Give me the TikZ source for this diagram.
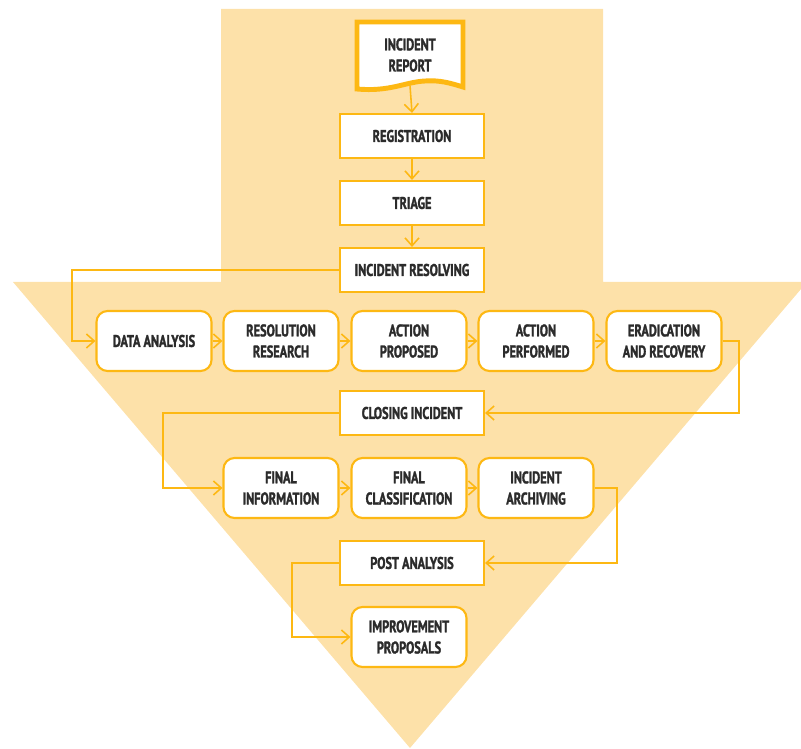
\documentclass[tikz,border=0pt]{standalone}
\usepackage{fontspec}
\setmainfont{PT Sans}[FakeStretch=0.73,BoldFont={PT Sans Bold},BoldFeatures={FakeBold=1.6}]
\usepackage{tikz}
\usetikzlibrary{positioning}
\usetikzlibrary{arrows.meta}
\definecolor{arrowfill}{HTML}{FDE1A9}
\definecolor{edge}{HTML}{FDB813}
\definecolor{ink}{HTML}{2B2B2B}

\begin{document}
\begin{tikzpicture}[x=0.02cm,y=-0.02cm,
  >={Straight Barb[length=4.5pt,width=8pt]},
  label text/.style={text=ink,font=\bfseries\fontsize{9.6}{12}\selectfont,align=center},
  step box/.style={label text,draw=edge,line width=1.2pt,fill=white,minimum width=2.88cm,
    minimum height=0.88cm,inner sep=1pt},
  task box/.style={step box,rounded corners=0.22cm,minimum width=2.3cm,minimum height=1.2cm},
  flow/.style={->,draw=edge,line width=0.9pt}]
  \useasboundingbox (0,0) rectangle (801,749);
  \clip (0,0) rectangle (801,749);
  % the big background arrow
  \fill[arrowfill] (221,9) -- (603,9) -- (603,282) -- (807,282) -- (410,748)
    -- (13,282) -- (221,282) -- cycle;
  % incident report (document shape)
  \draw[edge,line width=2.8pt,fill=white] (357,22) -- (463,22) -- (463,87)
    .. controls (450,83) and (440,80) .. (425,81)
    .. controls (405,82) and (390,92) .. (357,89) -- cycle;
  \node[label text,minimum height=1.2cm] (report) at (410,55) {INCIDENT\\REPORT};
  % main line
  \node[step box] (registration) at (412,136) {REGISTRATION};
  \node[step box] (triage) at (412,203) {TRIAGE};
  \node[step box] (resolving) at (412,270) {INCIDENT RESOLVING};
  \draw[flow] (report.south) -- (registration.north);
  \draw[flow] (registration) -- (triage);
  \draw[flow] (triage) -- (resolving);
  % resolving tasks
  \node[task box] (analysis) at (154,341) {DATA ANALYSIS};
  \node[task box] (research) at (281,341) {RESOLUTION\\RESEARCH};
  \node[task box] (proposed) at (409,341) {ACTION\\PROPOSED};
  \node[task box] (performed) at (536,341) {ACTION\\PERFORMED};
  \node[task box] (eradication) at (664,341) {ERADICATION\\AND RECOVERY};
  \draw[flow] (resolving.west) -| (72,330) |- (analysis.west);
  \draw[flow] (analysis) -- (research);
  \draw[flow] (research) -- (proposed);
  \draw[flow] (proposed) -- (performed);
  \draw[flow] (performed) -- (eradication);
  % closing
  \node[step box] (closing) at (412,413) {CLOSING INCIDENT};
  \draw[flow] (eradication.east) -| (739,380) |- (closing.east);
  \node[task box] (information) at (281,488) {FINAL\\INFORMATION};
  \node[task box] (classification) at (409,488) {FINAL\\CLASSIFICATION};
  \node[task box] (archiving) at (536,488) {INCIDENT\\ARCHIVING};
  \draw[flow] (closing.west) -| (163,450) |- (information.west);
  \draw[flow] (information) -- (classification);
  \draw[flow] (classification) -- (archiving);
  % post analysis
  \node[step box] (post) at (412,563) {POST ANALYSIS};
  \node[task box] (improvement) at (409,637) {IMPROVEMENT\\PROPOSALS};
  \draw[flow] (archiving.east) -| (617,520) |- (post.east);
  \draw[flow] (post.west) -| (292,600) |- (improvement.west);
\end{tikzpicture}
\end{document}
